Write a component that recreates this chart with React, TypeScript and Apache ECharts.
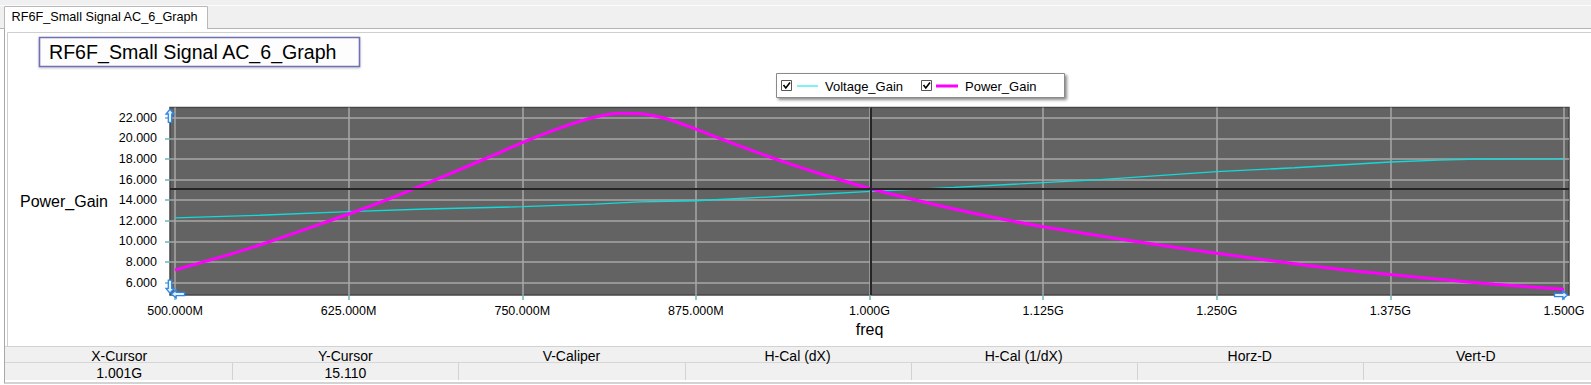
import React, { useEffect, useRef } from "react";
import * as echarts from "echarts";

const FONT = '"Liberation Sans", Arial, Helvetica, sans-serif';

// ---------- texts ----------
const tabLabel = "RF6F_Small Signal AC_6_Graph";
const chartTitle = "RF6F_Small Signal AC_6_Graph";
const xAxisName = "freq";
const yAxisName = "Power_Gain";
const seriesNames = ["Voltage_Gain", "Power_Gain"];
const tableHeaders = ["X-Cursor", "Y-Cursor", "V-Caliper", "H-Cal (dX)", "H-Cal (1/dX)", "Horz-D", "Vert-D"];
const tableValues = ["1.001G", "15.110", "", "", "", "", ""];

// ---------- axes (x in MHz) ----------
const xTicks = [500, 625, 750, 875, 1000, 1125, 1250, 1375, 1500];
const yTicks = [6, 8, 10, 12, 14, 16, 18, 20, 22];
const xMin = 496.4;
const xMax = 1503.6;
const yMin = 4.8;
const yMax = 23.0;

// ---------- data ----------
const freqVoltage = [500, 561, 625, 681, 750, 802, 835, 875, 941, 1001, 1061, 1125, 1166, 1250, 1306, 1375, 1410, 1438, 1500];
const voltageGain = [12.28, 12.54, 12.89, 13.15, 13.37, 13.63, 13.83, 13.95, 14.41, 14.86, 15.25, 15.7, 15.99, 16.77, 17.15, 17.71, 17.9, 18.0, 18.03];

const freqPower = [500, 537, 561, 585, 625, 657, 681, 705, 729, 750, 778, 802, 821, 835, 852, 875, 893, 917, 941, 965, 1001, 1037, 1061, 1097, 1125, 1163, 1211, 1250, 1294, 1330, 1375, 1414, 1450, 1500];
const powerGain = [7.23, 8.65, 9.65, 10.75, 12.66, 14.28, 15.62, 16.98, 18.35, 19.6, 21.05, 22.05, 22.45, 22.4, 21.98, 20.9, 19.95, 18.75, 17.6, 16.55, 15.12, 13.9, 13.15, 12.12, 11.43, 10.6, 9.6, 8.85, 8.05, 7.42, 6.78, 6.28, 5.85, 5.36];

// ---------- cursor ----------
const cursorX = 1001;
const cursorY = 15.11;

const fmtX = (v: number) => (v < 1000 ? v.toFixed(3) + "M" : (v / 1000).toFixed(3) + "G");

function staticGraphics(): any[] {
  const g: any[] = [];
  // top strip
  g.push({ type: "rect", shape: { x: 0, y: 0, width: 1591, height: 28.5 }, style: { fill: "#f0f0f0" }, silent: true, z: 0 });
  g.push({ type: "line", shape: { x1: 0, y1: 5.5, x2: 1591, y2: 5.5 }, style: { stroke: "#fbfbfb", lineWidth: 1 }, silent: true, z: 1 });
  g.push({ type: "line", shape: { x1: 0, y1: 28.5, x2: 1591, y2: 28.5 }, style: { stroke: "#b4b4b4", lineWidth: 1 }, silent: true, z: 1 });
  // tab
  g.push({ type: "rect", shape: { x: 4, y: 6, width: 203, height: 23 }, style: { fill: "#ffffff" }, silent: true, z: 2 });
  g.push({ type: "polyline", shape: { points: [[4.5, 29], [4.5, 6.5], [207.5, 6.5], [207.5, 28.5]] }, style: { stroke: "#b8b8b8", lineWidth: 1, fill: null }, silent: true, z: 3 });
  g.push({ type: "text", style: { x: 11.5, y: 17, text: tabLabel, fontFamily: FONT, fontSize: 12.7, fill: "#000", verticalAlign: "middle" }, silent: true, z: 3 });
  // panel frame
  g.push({ type: "line", shape: { x1: 4.5, y1: 28.5, x2: 4.5, y2: 383 }, style: { stroke: "#a8a8a8", lineWidth: 1 }, silent: true, z: 1 });
  g.push({ type: "line", shape: { x1: 7.5, y1: 32.5, x2: 1591, y2: 32.5 }, style: { stroke: "#cfcfcf", lineWidth: 1 }, silent: true, z: 1 });
  g.push({ type: "line", shape: { x1: 7.5, y1: 32.5, x2: 7.5, y2: 347 }, style: { stroke: "#cfcfcf", lineWidth: 1 }, silent: true, z: 1 });
  // title box
  g.push({ type: "rect", shape: { x: 39.5, y: 37.5, width: 320, height: 29 }, style: { fill: "#fdfdfd", stroke: "#6f6fb5", lineWidth: 1.6, shadowBlur: 2, shadowColor: "rgba(0,0,0,0.25)", shadowOffsetY: 1 }, silent: true, z: 2 });
  g.push({ type: "text", style: { x: 49, y: 52, text: chartTitle, fontFamily: FONT, fontSize: 19.6, fill: "#000", verticalAlign: "middle" }, silent: true, z: 3 });
  // legend
  g.push({ type: "rect", shape: { x: 776.5, y: 73.5, width: 288, height: 24 }, style: { fill: "#ffffff", stroke: "#8a8a8a", lineWidth: 1, shadowBlur: 3, shadowOffsetX: 2, shadowOffsetY: 2, shadowColor: "rgba(0,0,0,0.45)" }, silent: true, z: 2 });
  const legendItems = [
    { box: 781, line: [797, 818], text: 825, color: "#7ff3f3", width: 2, name: seriesNames[0] },
    { box: 921, line: [936, 958], text: 965, color: "#ff00ff", width: 3, name: seriesNames[1] },
  ];
  legendItems.forEach((it) => {
    g.push({ type: "rect", shape: { x: it.box + 0.5, y: 80.5, width: 10, height: 10 }, style: { fill: "#fff", stroke: "#555", lineWidth: 1 }, silent: true, z: 3 });
    g.push({ type: "polyline", shape: { points: [[it.box + 2.5, 85], [it.box + 4.8, 88], [it.box + 9, 82.5]] }, style: { stroke: "#000", lineWidth: 1.6, fill: null }, silent: true, z: 4 });
    g.push({ type: "line", shape: { x1: it.line[0], y1: 86, x2: it.line[1], y2: 86 }, style: { stroke: it.color, lineWidth: it.width }, silent: true, z: 3 });
    g.push({ type: "text", style: { x: it.text, y: 86, text: it.name, fontFamily: FONT, fontSize: 13, fill: "#000", verticalAlign: "middle" }, silent: true, z: 3 });
  });
  // bottom table
  const colW = 226.1;
  const col0 = 6.2;
  g.push({ type: "rect", shape: { x: 5, y: 346.5, width: 1586, height: 15.5 }, style: { fill: "#f0f0f0" }, silent: true, z: 1 });
  g.push({ type: "line", shape: { x1: 5, y1: 346.5, x2: 1591, y2: 346.5 }, style: { stroke: "#d2d2d2", lineWidth: 1 }, silent: true, z: 2 });
  g.push({ type: "line", shape: { x1: 5, y1: 362.5, x2: 1591, y2: 362.5 }, style: { stroke: "#d6d6d6", lineWidth: 1 }, silent: true, z: 2 });
  g.push({ type: "rect", shape: { x: 5, y: 363, width: 1586, height: 17 }, style: { fill: "#f0f0f0" }, silent: true, z: 1 });
  g.push({ type: "line", shape: { x1: 4, y1: 383, x2: 1591, y2: 383 }, style: { stroke: "#a8a8a8", lineWidth: 1.2 }, silent: true, z: 2 });
  tableHeaders.forEach((h, i) => {
    const cx = col0 + colW * i + colW / 2;
    g.push({ type: "text", style: { x: cx, y: 355.5, text: h, fontFamily: FONT, fontSize: 14, fill: "#000", align: "center", verticalAlign: "middle" }, silent: true, z: 3 });
    g.push({ type: "text", style: { x: cx, y: 372.5, text: tableValues[i], fontFamily: FONT, fontSize: 14, fill: "#000", align: "center", verticalAlign: "middle" }, silent: true, z: 3 });
    if (i > 0) {
      const sx = Math.round(col0 + colW * i) + 0.5;
      g.push({ type: "line", shape: { x1: sx, y1: 363, x2: sx, y2: 380 }, style: { stroke: "#d2d2d2", lineWidth: 1 }, silent: true, z: 2 });
    }
  });
  return g;
}

function arrow(cx: number, cy: number, dir: "up" | "down" | "left" | "right"): any {
  const base = [[0, -6.5], [4, -1.8], [1.7, -1.8], [1.7, 6.5], [-1.7, 6.5], [-1.7, -1.8], [-4, -1.8]];
  const pts = base.map(([x, y]) => {
    if (dir === "up") return [cx + x, cy + y];
    if (dir === "down") return [cx + x, cy - y];
    if (dir === "left") return [cx + y, cy + x];
    return [cx - y, cy + x];
  });
  return { type: "polygon", shape: { points: pts }, style: { fill: "#e4f1ff", stroke: "#2f86e8", lineWidth: 1.3 }, silent: true, z: 20 };
}

export default function App() {
  const ref = useRef<HTMLDivElement>(null);
  useEffect(() => {
    document.body.style.margin = "0";
    const chart = echarts.init(ref.current!, undefined, { renderer: "svg" });
    const axisTickColor = "#6cb6b6";
    const option: any = {
      animation: false,
      backgroundColor: "#ffffff",
      grid: {
        left: 170,
        right: 22,
        top: 107.5,
        height: 187.5,
        show: true,
        backgroundColor: "#636363",
        borderColor: "#474747",
        borderWidth: 1.5,
        containLabel: false,
      },
      xAxis: {
        type: "value",
        min: xMin,
        max: xMax,
        name: xAxisName,
        nameLocation: "middle",
        nameGap: 26,
        nameTextStyle: { fontFamily: FONT, fontSize: 16, color: "#000" },
        axisLine: { show: false },
        axisTick: { show: true, length: 5, lineStyle: { color: axisTickColor, width: 1.5 }, customValues: xTicks },
        axisLabel: { customValues: xTicks, formatter: (v: number) => fmtX(v), fontFamily: FONT, fontSize: 12.5, color: "#000", margin: 9 },
        splitLine: { show: true, lineStyle: { color: "#a7a7a7", width: 1.5 }, customValues: xTicks },
      },
      yAxis: {
        type: "value",
        min: yMin,
        max: yMax,
        name: yAxisName,
        nameLocation: "middle",
        nameRotate: 0,
        nameGap: 62,
        nameTextStyle: { fontFamily: FONT, fontSize: 16, color: "#000" },
        axisLine: { show: false },
        axisTick: { show: true, length: 5, lineStyle: { color: axisTickColor, width: 1.5 }, customValues: yTicks },
        axisLabel: { customValues: yTicks, formatter: (v: number) => v.toFixed(3), fontFamily: FONT, fontSize: 12.5, color: "#000", margin: 13 },
        splitLine: { show: true, lineStyle: { color: "#a7a7a7", width: 1.5 }, customValues: yTicks },
      },
      series: [
        {
          name: "cursor",
          type: "line",
          data: [],
          z: 1,
          markLine: {
            silent: true,
            symbol: "none",
            animation: false,
            label: { show: false },
            lineStyle: { color: "#262626", width: 2, type: "solid" },
            data: [{ xAxis: cursorX }, { yAxis: cursorY }],
          },
        },
        {
          name: seriesNames[0],
          type: "line",
          data: freqVoltage.map((f, i) => [f, voltageGain[i]]),
          showSymbol: false,
          smooth: false,
          z: 3,
          lineStyle: { color: "#12dada", width: 1.3 },
          itemStyle: { color: "#12dada" },
        },
        {
          name: seriesNames[1],
          type: "line",
          data: freqPower.map((f, i) => [f, powerGain[i]]),
          showSymbol: false,
          smooth: 0.35,
          z: 4,
          lineStyle: { color: "#ff00ff", width: 3 },
          itemStyle: { color: "#ff00ff" },
        },
      ],
      graphic: staticGraphics(),
    };
    chart.setOption(option);
    const p = (x: number, y: number) => chart.convertToPixel({ gridIndex: 0 }, [x, y]) as number[];
    const left = p(xMin, yMin)[0];
    const bottom = p(xMin, yMin)[1];
    const arrows = [
      arrow(left, p(xMin, yTicks[yTicks.length - 1])[1] - 2, "up"),
      arrow(left, p(xMin, yTicks[0])[1] + 4, "down"),
      arrow(p(xTicks[0], yMin)[0] + 3, bottom - 1, "left"),
      arrow(p(xTicks[xTicks.length - 1], yMin)[0] - 3, bottom, "right"),
    ];
    chart.setOption({ graphic: [...staticGraphics(), ...arrows] }, { replaceMerge: ["graphic"] });
    return () => chart.dispose();
  }, []);
  return <div ref={ref} style={{ position: "fixed", left: 0, top: 0, width: 1591, height: 385 }} />;
}
